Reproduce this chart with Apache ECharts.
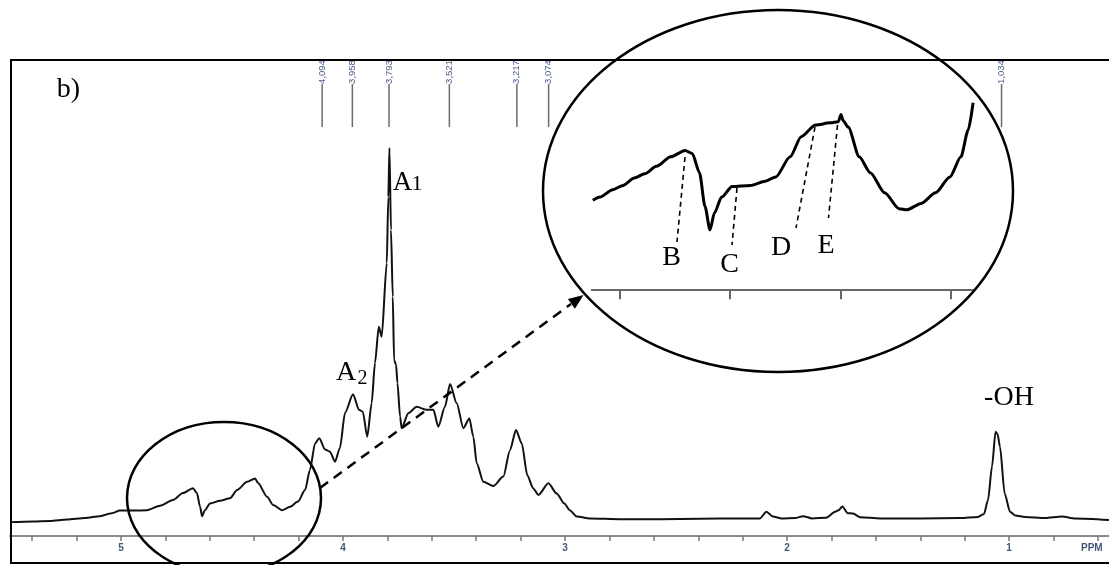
<!DOCTYPE html>
<html>
<head>
<meta charset="utf-8">
<script src="https://cdn.jsdelivr.net/npm/echarts@6/dist/echarts.min.js"></script>
<style>html,body{margin:0;padding:0;background:#fff}#c{width:1109px;height:565px}</style>
</head>
<body>
<div id="c"></div>
<script>
// Main 1H NMR spectrum (chemical shift in ppm, relative intensity; A1 = 100)
const spectrumPpm = [5.500,5.396,5.320,5.243,5.162,5.095,5.041,5.005,4.946,4.883,
 4.824,4.766,4.721,4.676,4.658,4.644,4.635,4.622,4.599,4.554,
 4.509,4.477,4.432,4.396,4.383,4.342,4.315,4.275,4.239,4.203,
 4.171,4.149,4.126,4.107,4.081,4.059,4.036,4.014,3.991,3.955,
 3.928,3.911,3.891,3.871,3.856,3.839,3.826,3.803,3.796,3.791,
 3.784,3.776,3.770,3.761,3.755,3.743,3.736,3.706,3.668,3.623,
 3.593,3.571,3.541,3.518,3.488,3.458,3.431,3.413,3.398,3.368,
 3.323,3.278,3.248,3.221,3.195,3.170,3.144,3.120,3.075,3.038,
 3.003,2.979,2.947,2.887,2.752,2.572,2.392,2.212,2.122,2.093,
 2.064,2.024,1.964,1.928,1.887,1.824,1.783,1.768,1.751,1.727,
 1.703,1.671,1.581,1.401,1.221,1.140,1.113,1.095,1.077,1.061,
 1.052,1.041,1.020,0.996,0.973,0.928,0.838,0.763,0.703,0.550];
const spectrumIntensity = [-0.3,-0.1,0,0.4,0.8,1.3,2.1,2.8,2.8,2.9,
 4.1,5.6,7.5,8.8,7.5,3.8,1.3,2.9,4.7,5.4,
 6.1,8.3,10.5,11.4,10.2,6.5,4.3,2.9,3.8,5.2,
 8.3,13.7,20.8,22.2,19.2,18.6,15.9,19.6,29.0,34.0,
 29.8,29.3,22.6,31.6,42.4,52.1,49.4,69.2,86.9,100,
 78.0,60.1,43.2,41.8,37.0,28.0,24.9,28.9,30.6,29.8,
 29.8,25.3,30.6,36.7,31.6,24.9,27.5,22.6,15.5,10.5,
 9.4,11.9,19.0,24.4,20.8,12.3,8.8,7.0,10.1,7.4,
 4.7,2.9,1.2,0.7,0.5,0.5,0.6,0.7,0.7,2.5,
 1.2,0.7,0.8,1.3,0.7,0.9,2.5,2.9,3.9,2.1,
 2.0,1.0,0.7,0.7,0.8,1.1,1.9,5.6,14.6,23.9,
 23.3,19.9,7.4,2.5,1.5,1.1,0.8,1.2,0.7,0.3];

// Magnified inset (4.85 - 4.16 ppm)
const insetPpm = [4.848,4.835,4.812,4.793,4.773,4.754,4.733,4.707,4.681,4.668,
 4.655,4.645,4.636,4.628,4.615,4.596,4.563,4.536,4.517,4.491,
 4.471,4.445,4.418,4.404,4.399,4.395,4.386,4.366,4.346,4.320,
 4.294,4.280,4.254,4.228,4.202,4.182,4.169,4.160];
const insetIntensity = [4.1,4.4,5.1,5.5,6.2,6.6,7.3,8.2,8.8,8.5,
 6.7,3.5,1.3,2.9,4.4,5.4,5.5,5.9,6.3,8.2,
 10.1,11.2,11.4,11.5,12.2,11.6,11.0,8.2,6.7,4.8,
 3.3,3.2,3.8,4.8,6.3,8.2,10.7,13.3];

// Peak picking labels
const peakPpm = [4.094,3.958,3.793,3.521,3.217,3.074,1.034];
const peakLabels = ["4,094","3,958","3,793","3,521","3,217","3,074","1,034"];

// Axis ticks
const tickPpm = [5.4,5.2,5.0,4.8,4.6,4.4,4.2,4.0,3.8,3.6,3.4,3.2,3.0,2.8,2.6,2.4,2.2,2.0,1.8,1.6,1.4,1.2,1.0,0.8,0.6];
const labelPpm = [5,4,3,2,1];
const insetTickPpm = [4.8,4.6,4.4,4.2];

const chart = echarts.init(document.getElementById('c'), null, {renderer:'canvas'});
const serif = '"Liberation Serif","Times New Roman",serif';
const sans = '"Liberation Sans",Arial,sans-serif';
const narrow = '"Liberation Sans Narrow","Liberation Sans",Arial,sans-serif';

function txt(text, x, y, size, align) {
  return {type:'text', x:x, y:y, z:120, silent:true,
    style:{text:text, font: size + 'px ' + serif, fill:'#000', align:align||'left', verticalAlign:'middle'}};
}
function dash(x1,y1,x2,y2){
  return {type:'line', z:110, silent:true, shape:{x1:x1,y1:y1,x2:x2,y2:y2},
    style:{stroke:'#000', lineWidth:1.6, lineDash:[5,4]}};
}

const option = {
  animation:false,
  backgroundColor:'#ffffff',
  grid:[
    {left:10, right:0, top:60, bottom:29},
    {left:591.7, right:135.9, top:90, bottom:275.7}
  ],
  xAxis:[
    {type:'value', gridIndex:0, inverse:true, min:0.55, max:5.5,
     axisLine:{onZero:false, lineStyle:{color:'#8a8a8a', width:2}},
     axisTick:{customValues:tickPpm, length:5, lineStyle:{color:'#777', width:1.5}},
     axisLabel:{customValues:labelPpm, color:'#44557a', fontSize:10, fontWeight:'bold', fontFamily:sans, margin:7,
       formatter:function(v){return String(v);}},
     splitLine:{show:false}},
    {type:'value', gridIndex:1, inverse:true, min:4.16, max:4.85,
     axisLine:{onZero:false, lineStyle:{color:'#666', width:2}},
     axisTick:{customValues:insetTickPpm, length:10, lineStyle:{color:'#666', width:2}},
     axisLabel:{show:false},
     splitLine:{show:false}}
  ],
  yAxis:[
    {type:'value', gridIndex:0, min:-4.02, max:123.6, show:false},
    {type:'value', gridIndex:1, min:-4.3, max:14.5, show:false}
  ],
  series:[
    {type:'line', xAxisIndex:0, yAxisIndex:0, showSymbol:false, silent:true, z:3,
     smooth:0.25, smoothMonotone:'x',
     data: spectrumPpm.map(function(p,i){return [p, spectrumIntensity[i]];}),
     lineStyle:{color:'#111', width:2}},
    {type:'line', xAxisIndex:1, yAxisIndex:1, showSymbol:false, silent:true, z:3,
     smooth:0.25, smoothMonotone:'x',
     data: insetPpm.map(function(p,i){return [p, insetIntensity[i]];}),
     lineStyle:{color:'#000', width:3}},
    {type:'custom', xAxisIndex:0, yAxisIndex:0, silent:true, clip:false, z:5,
     data: peakPpm.map(function(p){return [p,0];}),
     renderItem:function(params, api){
       var x = api.coord([api.value(0), 0])[0];
       return {type:'group', children:[
         {type:'line', shape:{x1:x,y1:84,x2:x,y2:127}, style:{stroke:'#6b6b6b', lineWidth:1.5}},
         {type:'text', x:x, y:72, rotation:Math.PI/2,
          style:{text:peakLabels[params.dataIndex], font:'9.5px ' + narrow, fill:'#4a5c88', align:'center', verticalAlign:'middle'}}
       ]};
     }}
  ],
  graphic:[
    {type:'rect', z:100, silent:true, shape:{x:11,y:60,width:1110,height:503},
     style:{fill:'rgba(0,0,0,0)', stroke:'#000', lineWidth:2}},
    {type:'ellipse', z:100, silent:true, shape:{cx:224,cy:498,rx:97,ry:76},
     style:{fill:'rgba(0,0,0,0)', stroke:'#000', lineWidth:2.5}},
    {type:'ellipse', z:100, silent:true, shape:{cx:778,cy:191,rx:235,ry:181},
     style:{fill:'rgba(0,0,0,0)', stroke:'#000', lineWidth:2.5}},
    {type:'line', z:100, silent:true, shape:{x1:320,y1:488,x2:571,y2:304},
     style:{stroke:'#000', lineWidth:2.5, lineDash:[10,7]}},
    {type:'polygon', z:100, silent:true, shape:{points:[[583.5,295],[574.9,308.7],[567.9,299.1]]},
     style:{fill:'#000'}},
    txt('b)', 56.7, 90, 28),
    txt('A', 392.7, 182.7, 27),
    txt('1', 411.5, 184.4, 22),
    txt('A', 336, 372.7, 28),
    txt('2', 357.5, 378.5, 20),
    txt('-OH', 1009, 398, 28, 'center'),
    txt('B', 671.5, 257.7, 28, 'center'),
    txt('C', 729.6, 265, 28, 'center'),
    txt('D', 781, 247.7, 28, 'center'),
    txt('E', 826, 246, 28, 'center'),
    dash(685,157,677,242),
    dash(737,188,732,245),
    dash(815,127,796,228),
    dash(837.5,125,828.5,218),
    {type:'text', x:1081, y:548, z:120, silent:true,
     style:{text:'PPM', font:'bold 10px ' + sans, fill:'#44557a', align:'left', verticalAlign:'middle'}}
  ]
};
chart.setOption(option);
</script>
</body>
</html>
